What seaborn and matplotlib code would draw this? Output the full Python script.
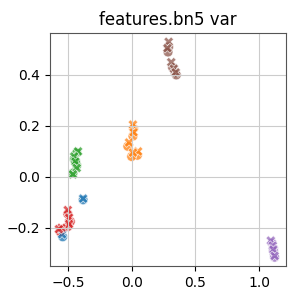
import numpy as np
import pandas as pd
import seaborn as sns
import matplotlib.pyplot as plt

# circle markers
circ_x = [-0.38, -0.54,
          0.015, 0.01, -0.03, 0.045, 0.0,
          -0.43, -0.45, -0.43, -0.46, -0.44,
          -0.50, -0.48, -0.50, -0.54, -0.56,
          1.10, 1.11, 1.115, 1.12, 1.11,
          0.29, 0.285, 0.32, 0.34, 0.35]
circ_y = [-0.09, -0.235,
          0.19, 0.16, 0.12, 0.085, 0.08,
          0.095, 0.07, 0.045, 0.015, 0.06,
          -0.145, -0.175, -0.195, -0.205, -0.215,
          -0.26, -0.28, -0.30, -0.315, -0.29,
          0.51, 0.49, 0.43, 0.41, 0.40]
circ_grp = ["0"] * 2 + ["1"] * 5 + ["2"] * 5 + ["3"] * 5 + ["4"] * 5 + ["5"] * 5

# cross markers
cross_x = [-0.38, -0.545,
           0.01, 0.015, -0.02, 0.05, 0.01,
           -0.42, -0.45, -0.44, -0.43, -0.46,
           -0.50, -0.49, -0.49, -0.55, -0.57,
           1.09, 1.105, 1.11, 1.12,
           0.29, 0.28, 0.31, 0.33, 0.345]
cross_y = [-0.085, -0.225,
           0.205, 0.175, 0.135, 0.10, 0.095,
           0.10, 0.08, 0.06, 0.035, 0.01,
           -0.13, -0.16, -0.185, -0.20, -0.205,
           -0.25, -0.27, -0.285, -0.31,
           0.53, 0.505, 0.45, 0.425, 0.41]
cross_grp = ["0"] * 2 + ["1"] * 5 + ["2"] * 5 + ["3"] * 5 + ["4"] * 4 + ["5"] * 5

df = pd.DataFrame({
    "x": circ_x + cross_x,
    "y": circ_y + cross_y,
    "group": circ_grp + cross_grp,
    "kind": ["a"] * len(circ_x) + ["b"] * len(cross_x),
})

plt.rcParams["axes.grid"] = True
plt.rcParams["grid.color"] = "#cccccc"
plt.rcParams["axes.edgecolor"] = "#555555"
fig, ax = plt.subplots(figsize=(2.99, 2.99), dpi=100)
sns.scatterplot(data=df, x="x", y="y", hue="group", style="kind",
                markers=["o", "X"], s=50, alpha=0.75, ax=ax, legend=False)
ax.set_xlim(-0.64, 1.21)
ax.set_ylim(-0.35, 0.565)
ax.set_xticks([-0.5, 0.0, 0.5, 1.0])
ax.set_yticks([-0.2, 0.0, 0.2, 0.4])
ax.set_xlabel("")
ax.set_ylabel("")
ax.set_title("features.bn5 var")
fig.subplots_adjust(left=0.167, right=0.957, top=0.89, bottom=0.11)
fig.savefig("out.png")
plt.close(fig)
